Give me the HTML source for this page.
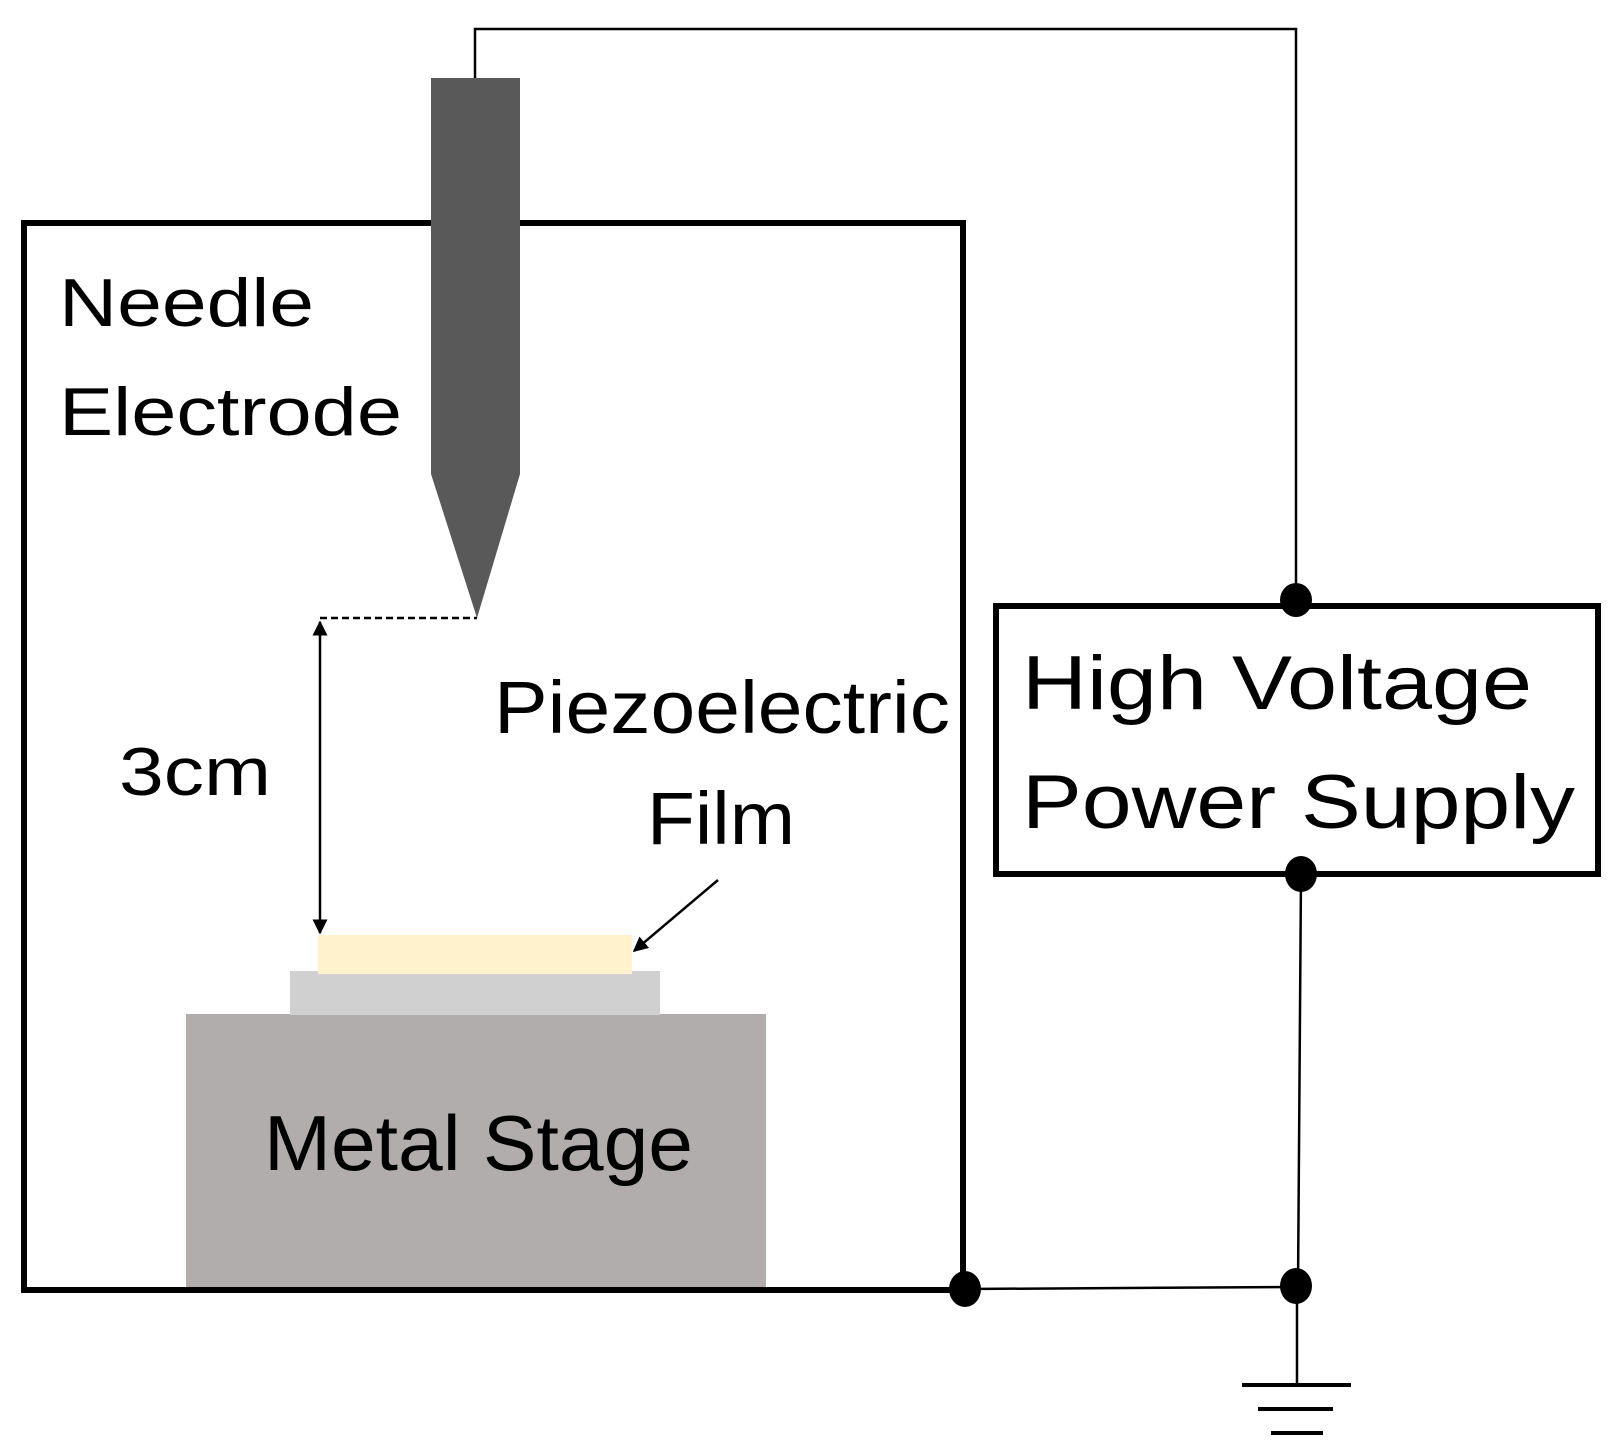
<!DOCTYPE html>
<html><head><meta charset="utf-8"><style>
html,body{margin:0;padding:0;background:#fff;}
svg{display:block;}
text{font-family:"Liberation Sans",Arial,sans-serif;fill:#000;}
</style></head><body>
<svg width="1619" height="1455" viewBox="0 0 1619 1455" xmlns="http://www.w3.org/2000/svg">
<defs>
<marker id="ah" viewBox="0 0 10 10" refX="9" refY="5" markerWidth="6" markerHeight="6" orient="auto-start-reverse">
<path d="M0,0 L10,5 L0,10 z" fill="#000"/></marker>
</defs>
<rect x="186" y="1014" width="580" height="274" fill="#b0adac"/>
<rect x="290" y="971" width="370" height="44" fill="#d0d0d0"/>
<rect x="318" y="935" width="314" height="39" fill="#fff2cc"/>
<rect x="24" y="223" width="939" height="1067" fill="none" stroke="#000" stroke-width="6"/>
<path d="M431,78 H520 V474 L477,618 L431,474 Z" fill="#595959"/>
<polyline points="475,78 475,29 1296,29 1296,600" fill="none" stroke="#000" stroke-width="2.5"/>
<rect x="996" y="606" width="602" height="268" fill="none" stroke="#000" stroke-width="6"/>
<line x1="1301" y1="875" x2="1298" y2="1287" stroke="#000" stroke-width="2.5"/>
<line x1="965" y1="1289" x2="1296" y2="1287" stroke="#000" stroke-width="2.5"/>
<line x1="1297" y1="1287" x2="1297" y2="1385" stroke="#000" stroke-width="2.5"/>
<line x1="1242" y1="1385" x2="1351" y2="1385" stroke="#000" stroke-width="4"/>
<line x1="1258" y1="1409" x2="1333" y2="1409" stroke="#000" stroke-width="4"/>
<line x1="1271" y1="1433" x2="1323" y2="1433" stroke="#000" stroke-width="4"/>
<ellipse cx="1296" cy="600" rx="16" ry="17" fill="#000"/>
<ellipse cx="1301" cy="874" rx="16" ry="18" fill="#000"/>
<ellipse cx="965" cy="1289" rx="16" ry="18" fill="#000"/>
<ellipse cx="1296" cy="1286" rx="16" ry="18" fill="#000"/>
<line x1="320" y1="618" x2="477" y2="618" stroke="#000" stroke-width="2.5" stroke-dasharray="7,4"/>
<line x1="320" y1="622" x2="320" y2="933" stroke="#000" stroke-width="2.5" marker-start="url(#ah)" marker-end="url(#ah)"/>
<line x1="718" y1="880" x2="634" y2="951" stroke="#000" stroke-width="2.5" marker-end="url(#ah)"/>
<text x="59" y="326" font-size="68" textLength="255" lengthAdjust="spacingAndGlyphs">Needle</text>
<text x="59" y="435" font-size="68" textLength="343" lengthAdjust="spacingAndGlyphs">Electrode</text>
<text x="119" y="795" font-size="68" textLength="152" lengthAdjust="spacingAndGlyphs">3cm</text>
<text x="494" y="733" font-size="74" textLength="456" lengthAdjust="spacingAndGlyphs">Piezoelectric</text>
<text x="647" y="844" font-size="74" textLength="148" lengthAdjust="spacingAndGlyphs">Film</text>
<text x="1022" y="709" font-size="76" textLength="510" lengthAdjust="spacingAndGlyphs">High Voltage</text>
<text x="1022" y="828" font-size="76" textLength="553" lengthAdjust="spacingAndGlyphs">Power Supply</text>
<text x="264" y="1170" font-size="78" textLength="429" lengthAdjust="spacingAndGlyphs">Metal Stage</text>
</svg>
</body></html>
